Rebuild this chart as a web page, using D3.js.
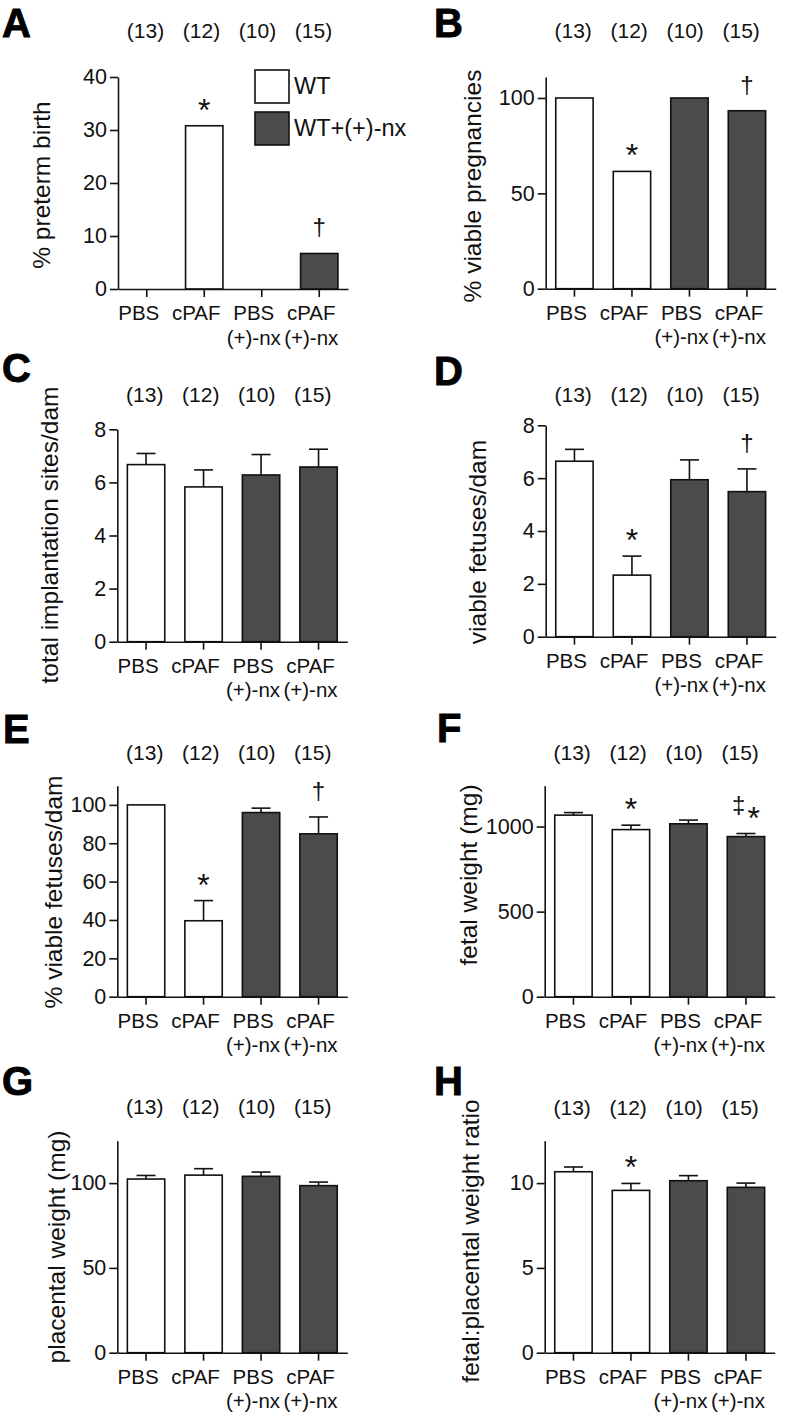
<!DOCTYPE html>
<html><head><meta charset="utf-8">
<script src="https://cdn.jsdelivr.net/npm/d3@7"></script>
<style>
body{margin:0;background:#fff;}
svg{display:block;font-family:"Liberation Sans",Arial,Helvetica,sans-serif;}
</style></head><body>
<svg id="fig" width="788" height="1414"></svg>
<script>
// ---------- data ----------
const categories = ["PBS","cPAF","PBS","cPAF"];
const subLabels = ["","","(+)-nx","(+)-nx"];
const groups = ["WT","WT","WT+(+)-nx","WT+(+)-nx"];
const legendLabels = ["WT","WT+(+)-nx"];
const nLabels = ["(13)","(12)","(10)","(15)"];

const pretermBirth = [0, 30.8, 0, 6.7];
const viablePregnancies = [100, 61.5, 100, 93.3];
const implantationSites = [6.67, 5.83, 6.28, 6.58];
const implantationSitesSem = [0.42, 0.64, 0.77, 0.67];
const viableFetuses = [6.64, 2.33, 5.94, 5.49];
const viableFetusesSem = [0.45, 0.72, 0.75, 0.86];
const pctViableFetuses = [100, 39.6, 96.0, 84.9];
const pctViableFetusesSem = [0, 10.5, 2.3, 8.8];
const fetalWeight = [1067, 982, 1016, 941];
const fetalWeightSem = [15, 26, 22, 18];
const placentalWeight = [102.4, 104.7, 104.0, 98.5];
const placentalWeightSem = [2.1, 3.8, 2.5, 2.1];
const weightRatio = [10.67, 9.57, 10.14, 9.75];
const weightRatioSem = [0.28, 0.41, 0.30, 0.25];

const ticksA = [0,10,20,30,40];
const ticksB = [0,50,100];
const ticksC = [0,2,4,6,8];
const ticksD = [0,2,4,6,8];
const ticksE = [0,20,40,60,80,100];
const ticksF = [0,500,1000];
const ticksG = [0,50,100];
const ticksH = [0,5,10];

const marksA = ["","*","","†"];
const marksB = ["","*","","†"];
const marksC = ["","","",""];
const marksD = ["","*","","†"];
const marksE = ["","*","","†"];
const marksF = ["","*","","‡*"];
const marksG = ["","","",""];
const marksH = ["","*","",""];

// ---------- layout ----------
const panels = [
 {letter:"A", lx:2, ly:37, title:"% preterm birth", values:pretermBirth, sem:null, ticks:ticksA, yMax:40, marks:marksA,
  ax:118, top:77, bottom:289, nY:37.5, tx:50, ty:185, legend:true},
 {letter:"B", lx:434, ly:37, title:"% viable pregnancies", values:viablePregnancies, sem:null, ticks:ticksB, yMax:111, marks:marksB,
  ax:545.7, top:77, bottom:288.7, nY:37.5, tx:481, ty:186},
 {letter:"C", lx:2, ly:382, title:"total implantation sites/dam", values:implantationSites, sem:implantationSitesSem, ticks:ticksC, yMax:8, marks:marksC,
  ax:117.3, top:429.3, bottom:641.7, nY:401.5, tx:58, ty:535},
 {letter:"D", lx:434, ly:385, title:"viable fetuses/dam", values:viableFetuses, sem:viableFetusesSem, ticks:ticksD, yMax:8, marks:marksD,
  ax:545.7, top:425.3, bottom:636.7, nY:401.5, tx:486, ty:542},
 {letter:"E", lx:3, ly:743, title:"% viable fetuses/dam", values:pctViableFetuses, sem:pctViableFetusesSem, ticks:ticksE, yMax:110, marks:marksE,
  ax:117.3, top:785.7, bottom:996.7, nY:760, tx:62, ty:892},
 {letter:"F", lx:437, ly:742, title:"fetal weight (mg)", values:fetalWeight, sem:fetalWeightSem, ticks:ticksF, yMax:1240, marks:marksF,
  ax:544.7, top:785.7, bottom:996.7, nY:760, tx:477, ty:875},
 {letter:"G", lx:2, ly:1095, title:"placental weight (mg)", values:placentalWeight, sem:placentalWeightSem, ticks:ticksG, yMax:125, marks:marksG,
  ax:117.3, top:1140.7, bottom:1352.7, nY:1113.5, tx:65, ty:1247},
 {letter:"H", lx:434, ly:1095, title:"fetal:placental weight ratio", values:weightRatio, sem:weightRatioSem, ticks:ticksH, yMax:12.5, marks:marksH,
  ax:544.7, top:1140.7, bottom:1352.7, nY:1115, tx:479, ty:1241}
];

const INK = "#111";
const color = d3.scaleOrdinal().domain(legendLabels).range(["#ffffff","#4b4b4b"]);
const svg = d3.select("#fig");

function drawPanel(p){
  const g = svg.append("g");
  const x = d3.scaleBand().domain(d3.range(categories.length)).range([p.ax, p.ax+230])
              .paddingInner(0.35).paddingOuter(0.175);
  const y = d3.scaleLinear().domain([0,p.yMax]).range([p.bottom,p.top]);
  const cx = i => x(i) + x.bandwidth()/2;

  // panel letter
  g.append("text").attr("x",p.lx).attr("y",p.ly).attr("font-size",40).attr("font-weight","bold")
    .attr("fill","#000").attr("stroke","#000").attr("stroke-width",0.9).text(p.letter);

  // n labels
  const nx = d3.scalePoint().domain(d3.range(4)).range([p.ax+27.5, p.ax+27.5+168]);
  g.selectAll("text.n").data(nLabels).join("text").attr("class","n")
    .attr("x",(d,i)=>nx(i)).attr("y",p.nY).attr("text-anchor","middle")
    .attr("font-size",21).attr("fill",INK).text(d=>d);

  // bars
  g.selectAll("rect.bar").data(p.values).join("rect").attr("class","bar")
    .attr("x",(d,i)=>x(i)).attr("width",x.bandwidth())
    .attr("y",d=>y(d)).attr("height",d=>y(0)-y(d))
    .attr("fill",(d,i)=>color(groups[i])).attr("stroke",INK).attr("stroke-width",1.6);

  // error bars (upper only)
  if(p.sem){
    p.values.forEach((v,i)=>{
      const s = p.sem[i];
      if(!s) return;
      g.append("line").attr("x1",cx(i)).attr("x2",cx(i)).attr("y1",y(v)).attr("y2",y(v+s))
        .attr("stroke",INK).attr("stroke-width",1.6);
      g.append("line").attr("x1",cx(i)-9.5).attr("x2",cx(i)+9.5).attr("y1",y(v+s)).attr("y2",y(v+s))
        .attr("stroke",INK).attr("stroke-width",1.6);
    });
  }

  // y axis
  const ya = g.append("g").attr("transform",`translate(${p.ax},0)`)
    .call(d3.axisLeft(y).tickValues(p.ticks).tickSize(8).tickSizeOuter(0).tickPadding(3).tickFormat(d3.format("d")));
  ya.selectAll("text").attr("font-size",21.5).attr("fill",INK);
  ya.attr("font-family",null);
  ya.selectAll("path,line").attr("stroke",INK).attr("stroke-width",1.6);

  // x axis
  const xa = g.append("g").attr("transform",`translate(0,${p.bottom})`)
    .call(d3.axisBottom(x).tickSize(8).tickSizeOuter(0).tickFormat(""));
  xa.attr("font-family",null);
  xa.selectAll("path,line").attr("stroke",INK).attr("stroke-width",1.6);

  // x labels (two lines)
  categories.forEach((c,i)=>{
    const t = g.append("text").attr("x",cx(i)-8).attr("y",p.bottom+31)
      .attr("text-anchor","middle").attr("font-size",20.5).attr("fill",INK);
    t.append("tspan").attr("x",cx(i)-8).text(c);
    if(subLabels[i]) t.append("tspan").attr("x",cx(i)-8).attr("dy",24.5).text(subLabels[i]);
  });

  // y title
  g.append("text").attr("transform",`translate(${p.tx},${p.ty}) rotate(-90)`)
    .attr("text-anchor","middle").attr("font-size",24.5).attr("fill",INK).text(p.title);

  // significance marks
  const markStyle = {"*":{off:-5,size:32,dx:2}, "†":{off:-18,size:24,dx:0}, "‡":{off:-21,size:24,dx:0}};
  p.marks.forEach((m,i)=>{
    if(!m) return;
    const topV = p.values[i] + (p.sem ? p.sem[i] : 0);
    const t = g.append("text").attr("x",cx(i)).attr("y",y(topV)).attr("text-anchor","middle").attr("fill",INK);
    let prev = 0;
    [...m].forEach((ch,k)=>{
      const st = markStyle[ch];
      t.append("tspan").attr("dy",st.off-prev).attr("dx",k>0?st.dx:0).attr("font-size",st.size).text(ch);
      prev = st.off;
    });
  });

  // legend
  if(p.legend){
    const ly = d3.scalePoint().domain(legendLabels).range([70,112]);
    legendLabels.forEach(l=>{
      g.append("rect").attr("x",255).attr("y",ly(l)).attr("width",34).attr("height",33)
        .attr("fill",color(l)).attr("stroke",INK).attr("stroke-width",1.6);
      g.append("text").attr("x",294).attr("y",ly(l)+23.5).attr("font-size",23.5).attr("fill",INK).text(l);
    });
  }
}
panels.forEach(drawPanel);
</script>
</body></html>
